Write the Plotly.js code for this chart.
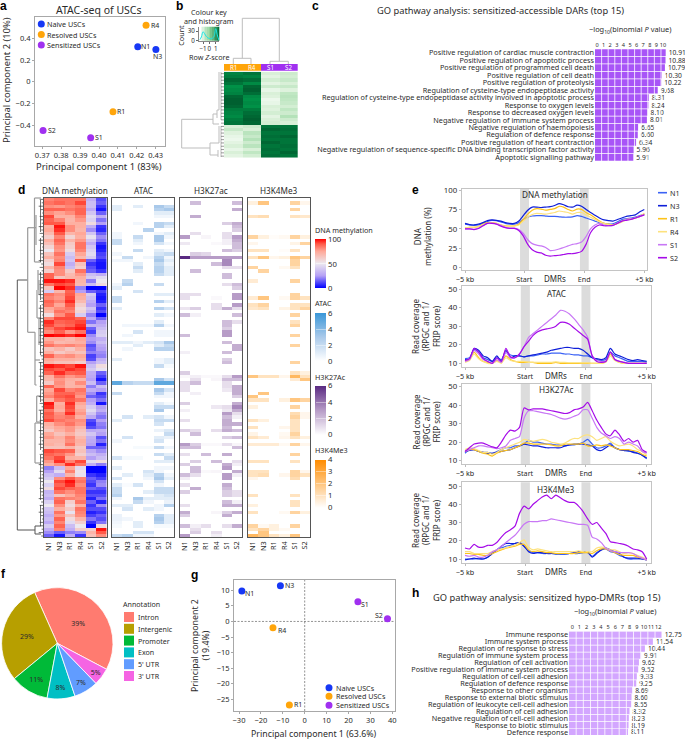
<!DOCTYPE html>
<html><head><meta charset="utf-8">
<script src="https://cdn.plot.ly/plotly-3.0.1.min.js"></script>
<style>html,body{margin:0;padding:0;background:#fff}#g{width:685px;height:740px}</style></head>
<body><div id="g"></div>
<script>
const FONT='"Noto Sans", Roboto, sans-serif', INK='#2b2b2b';
// ---------- panel a
const atacPc1N=[0.4205,0.4301], atacPc2N=[0.322,0.297];
const atacPc1R=[0.4074,0.4249], atacPc2R=[-0.276,0.521];
const atacPc1S=[0.3956,0.3704], atacPc2S=[-0.515,-0.448];
// ---------- panel b
const bSamples=['R1','R4','S1','S2'];
const bZ=[[0.75,0.85,-0.6,-0.5],[0.8,0.75,-0.7,-0.55],[0.95,0.9,-0.55,-0.45],[0.85,0.7,-0.7,-0.6],[0.65,0.95,-0.5,-0.45],[0.7,1,-0.75,-0.65],[0.75,0.9,-0.6,-0.4],[0.95,0.7,-0.65,-0.35],[1,0.65,-0.8,-0.4],[1,0.7,-0.75,-0.45],[0.95,0.65,-0.6,-0.55],[0.8,0.8,-0.65,-0.4],[0.75,0.9,-0.55,-0.5],[0.7,0.95,-0.7,-0.3],[0.8,1,-0.6,-0.5],[0.85,0.95,-0.55,-0.6],
[-0.6,-0.5,0.85,0.85],[-0.45,-0.6,0.95,0.9],[-0.65,-0.35,0.85,0.85],[-0.75,-0.45,0.9,0.95],[-0.8,-0.3,0.85,0.85],[-0.7,-0.5,0.95,0.85],[-0.6,-0.35,0.85,0.9],[-0.75,-0.6,0.9,0.85],[-0.6,-0.4,0.85,0.95],[-0.7,-0.55,0.9,0.85]];
const keyX=[-1.5,-1.25,-1,-0.75,-0.5,-0.25,0,0.25,0.5,0.75,1,1.25,1.5];
const keyCount=[3,12,28,22,14,9,7,6,8,14,38,18,2];
// ---------- panel c
const dars=['Positive regulation of cardiac muscle contraction','Positive regulation of apoptotic process','Positive regulation of programmed cell death','Positive regulation of cell death','Positive regulation of proteolysis','Regulation of cysteine-type endopeptidase activity','Regulation of cysteine-type endopeptidase activity involved in apoptotic process','Response to oxygen levels','Response to decreased oxygen levels','Negative regulation of immune system process','Negative regulation of haemopoiesis','Regulation of defence response','Positive regulation of heart contraction','Negative regulation of sequence-specific DNA binding transcription factor activity','Apoptotic signalling pathway'];
const darP=[10.91,10.88,10.79,10.30,10.22,9.68,8.31,8.24,8.10,8.01,6.65,6.60,6.34,5.96,5.91];
// ---------- panel d
const dSamples=['N1','N3','R1','R4','S1','S2'];
const methyl=[[82,85,85,85,30,12],[85,88,85,92,35,15],[80,78,82,85,35,8],[88,88,85,88,28,3],[80,76,80,88,38,15],[92,72,72,82,45,30],[88,82,70,78,42,18],[90,90,72,72,55,25],[72,98,80,72,30,8],[75,95,80,70,22,6],
[68,90,70,75,38,15],[60,82,58,72,48,22],[72,88,70,78,38,18],[66,85,62,85,30,8],[58,80,60,85,38,3],[50,78,55,82,42,5],[65,85,40,75,45,10],[72,80,35,68,40,12],[60,82,38,90,15,5],[55,92,30,65,8,3],
[70,82,35,60,12,3],[60,80,62,85,15,8],[88,80,68,78,35,30],[88,65,70,72,40,45],[98,98,95,70,20,50],[85,92,90,68,35,55],[65,100,95,20,0,0],[40,70,88,25,15,10],[85,80,90,75,40,5],[82,78,92,72,35,3],
[88,82,95,68,30,5],[85,75,90,60,25,15],[75,80,85,55,38,8],[70,85,82,58,32,12],[55,80,90,40,20,0],[82,92,92,88,28,15],[95,88,90,92,18,25],[92,85,88,95,32,30],[85,92,95,98,15,35],[80,88,78,85,10,40],
[100,98,95,100,22,42],[72,72,68,75,25,30],[78,68,70,72,22,35],[85,80,82,78,12,28],[65,70,62,72,15,25],[72,62,68,65,20,22],[88,78,80,75,10,20],[75,72,72,70,12,30],[70,65,65,60,25,35],[98,95,92,98,35,55],
[92,90,95,92,40,48],[88,95,88,90,30,15],[72,85,78,82,28,10],[70,78,72,70,25,3],[62,80,70,80,35,15],[88,78,70,72,20,35],[75,92,82,85,30,25],[78,88,88,82,22,8],[82,90,92,78,15,12],[72,85,90,85,25,18],
[98,72,95,75,30,3],[95,75,92,70,40,25],[85,72,90,75,45,30],[90,80,95,78,38,22],[88,82,85,72,28,18],[92,85,82,80,12,25],[72,80,85,78,8,20],[68,75,78,70,12,18],[62,72,78,65,28,30],[75,65,72,62,38,25],
[78,72,82,68,30,12],[70,70,80,72,28,18],[72,68,85,70,25,5],[65,65,70,62,15,15],[92,90,88,65,28,22],[88,85,78,60,35,30],[85,92,72,70,25,35],[78,95,82,92,45,55],[72,80,95,85,30,20],[20,35,75,45,0,0],
[25,45,82,52,0,0],[35,30,70,48,8,5],[40,80,90,82,15,10],[50,92,98,85,12,20],[42,88,95,80,8,22],[55,92,88,85,15,12],[32,85,80,85,8,8],[35,65,75,82,12,12],[30,85,82,80,5,18],[42,88,60,85,15,5],
[50,80,55,72,8,22],[38,72,62,85,12,12],[35,85,48,82,5,8],[30,78,65,80,10,15],[35,88,55,70,18,12],[28,82,45,60,8,18],[40,88,35,50,0,55],[30,82,30,60,60,98],[22,15,20,22,70,90],[15,3,30,8,65,80]];
// sparse tracks: [row, N1, N3, R1, R4, S1, S2]
const atacRows=[[2,1,0,1,0,3,2],[3,1,0,0,0,2.5,3],[4,0,0,0,0,1,1],[5,0,0,0,0,.5,.5],[7,0,0,.5,0,2.5,2],[8,0,0,0,0,2.5,1],[9,0,0,0,2.5,0,0],[10,.5,0,0,0,.5,1],[11,.5,0,2,0,3,.5],[12,2,0,1,0,3,0],[13,2,0,.5,0,1.5,.5],[15,0,0,2,0,1,.5],[16,.5,0,0,0,1.5,2],[17,0,2,0,.5,2.5,.5],[18,.5,.5,0,0,3,1],[19,0,0,1,0,2,.5],[20,0,0,2,0,2.5,1],[21,0,0,1,0,2.5,1],[22,0,0,0,0,2,1],[24,0,2,0,0,0,0],[25,.5,2.5,0,0,2,0],[26,1,0,0,0,0,0],[27,0,0,1.5,0,0,0],[28,0,0,0,0,1,1],[29,2,0,0,0,0,0],[30,2,0,0,0,2.5,1],[32,1,0,0,0,2.5,1.5],[34,0,0,0,0,1,.5],[36,0,0,0,0,1,0],[37,0,.5,.5,.5,2.5,.5],[39,0,0,1.5,0,.5,.5],[40,0,.5,0,0,.5,.5],[42,1,1,.5,1,1.5,3],[43,0,0,1,0,1,2],[44,0,.5,0,0,2.5,2.5],[47,1,0,0,0,.5,1],[48,0,0,0,0,.5,1],
[49,0,0,0,0,2,.3],[53,0,0,0,0,3,1.5],[54,5,2.5,2,2,5,5],[56,0,0,0,0,3,1.5],[57,2,0,0,0,2,.5],[58,0,0,0,0,.5,.5],[60,0,0,0,0,1,.3],[61,0,0,0,0,2,2],[62,0,0,0,0,3,0],[64,0,1.5,0,1,1.5,.5],[65,1,0,0,0,2,2],[66,0,0,0,0,1.5,0],[68,0,0,0,0,.7,1.3],[69,0,0,0,0,0,2],[70,0,1.5,0,0,1,.7],[71,.5,0,0,0,1.5,0],[73,0,0,.3,.3,2,.5],[75,0,0,0,0,2,1],[76,1.5,.3,.3,0,0,2],[77,0,0,0,0,1,1],[79,1,0,0,0,.5,.5],[80,0,0,0,1.5,.5,0],[81,0,1,0,1,2.5,.5],[82,1.5,0,0,.5,3,1],[83,0,0,0,0,1.5,0],[84,1,.2,1.5,0,.5,0],[85,2,0,0,0,2,2],[86,2,0,0,1,2,2],[87,2.5,0,0,0,1,1.5],[88,.5,0,3,1,1,1],[89,0,0,2,.5,0,.7],[90,1,1,0,0,.5,2.5],[91,0,1.5,0,1,.5,0],[93,.7,0,0,0,2.5,1],[94,.7,.5,0,0,3,1],[95,.5,0,1,0,2.5,1],[96,.3,0,1,0,.3,.3],[98,0,0,1.5,1.5,0,0],[99,2,2.5,.5,.5,0,0]];
const k27Rows=[[1,0,2,0,0,0,2],[3,0,0,0,0,0,2.5],[5,0,2.5,0,0,0,0],[7,0,0,0,0,1.5,2.5],[8,0,0,0,0,0,2],[9,0,0,0,0,0,1.5],[10,0,1,0,0,1,0],[11,3,0,.3,0,1,3],[12,0,0,0,0,.5,2.5],[13,.7,0,0,.2,.5,2],[14,0,0,0,0,0,2],[15,0,0,0,0,2,1.5],[16,0,1.5,1.2,0,0,0],[17,6,3,3,3,3,3],[18,0,0,0,0,3.5,0],[19,0,0,0,2,3.5,0],[20,0,0,0,0,1,1],[21,0,2,0,0,0,0],[22,0,0,0,0,2,0],[23,0,0,0,0,2,0],[25,0,0,0,0,1,2],[26,0,0,0,0,0,1.5],[28,1,1,0,0,0,3],[29,1,0,0,.2,0,3],[31,0,0,0,1,0,3],[32,.8,1.5,0,1,2.5,1],[34,2,.5,0,0,0,2],[36,0,0,0,0,2,1],[37,0,0,0,0,2,0],[38,0,0,0,0,1.5,0],[39,0,0,0,0,3,0],[40,2,0,0,0,3,0],[42,0,0,0,0,2,0],[43,0,0,0,0,0,2.5],[44,0,0,0,0,0,2.5],[45,.5,0,0,0,2,0],[47,0,0,0,0,1.5,0],[48,0,0,0,0,2,0],
[51,1.5,0,0,0,0,0],[52,.2,.5,.2,.2,1,3],[53,0,1,0,.3,2,2],[54,1,2,0,0,1,0],[55,1,0,0,0,1,2.5],[56,1,0,0,0,.7,2.5],[57,0,.5,0,0,0,2.5],[58,0,0,0,0,0,1.5],[60,1.5,0,0,0,0,2.5],[61,0,0,0,.7,1,3.5],[62,.5,0,0,0,.7,2.5],[63,0,0,0,0,3,1],[64,0,0,0,0,2,.5],[65,1,0,0,0,2.5,0],[66,0,0,0,0,2.5,2.5],[67,0,0,0,0,2,0],[68,1.5,1,0,1,2.5,2],[69,0,2,0,0,0,0],[70,0,0,0,0,1.5,2],[72,3,1.5,.2,.2,1,.3],[73,2,2,0,0,0,2],[75,1,0,2,0,2.5,0],[77,0,1.5,0,2,0,1],[78,1.5,0,0,0,2.5,.5],[79,0,2,0,0,3,0],[80,0,2,.2,.3,0,2.5],[81,2,1,0,0,3,.5],[82,.5,0,0,0,3,0],[84,1,0,0,0,2.5,0],[85,0,2.5,0,0,2,0],[86,1.5,0,0,0,1.5,1],[87,0,0,0,0,1.5,1],[89,0,0,0,0,2,.5],[90,1,0,0,0,2.5,2.5],[92,2.5,0,0,.3,1.5,2.5],[93,1.5,0,0,0,2.5,0],[96,2,.5,1,0,1,2.5],[97,0,1,0,0,0,0],[98,0,1.5,0,1,0,0],[99,3,0,0,.5,0,0]];
const k4Rows=[[1,.5,2,0,0,1.5,.3],[3,0,0,0,0,1.5,0],[5,1,1.2,0,0,1,.8],[11,1.5,.5,.1,.2,1.5,.5],[13,.3,0,0,0,.4,1.5],[15,1,1,0,.1,1,0],[17,1,2,.3,.5,2,1.5],[18,0,0,0,0,1.5,0],[19,0,0,0,0,1.5,0],[20,1.5,0,0,.2,1,0],[21,0,1.5,0,0,0,0],[24,.7,0,0,0,1.5,0],[28,0,0,0,0,1.5,0],[29,.7,2,0,.2,1.5,1],[31,1,1.5,0,0,1,1],[32,.8,1,0,.4,1,1.5],[34,0,0,0,0,1.5,0],[36,0,0,0,0,1,0],[37,0,0,0,0,1.5,0],[40,0,0,0,0,1.5,0],[43,0,0,0,0,1.5,0],[48,0,0,0,0,1.5,0],
[51,0,0,0,0,1,.5],[52,2,1,1,.3,2.5,1],[53,0,0,0,0,.7,2],[57,0,2,0,0,0,0],[58,2,0,0,0,0,0],[59,1,1,0,.5,2,1.5],[61,.5,0,0,0,1.5,0],[63,0,0,0,0,1.2,.3],[64,0,0,0,0,1.5,.3],[65,1,.5,0,0,1,0],[66,0,0,0,0,1,0],[67,1,0,0,.3,1,0],[68,0,0,0,0,1,0],[69,.4,0,0,.2,1.5,0],[70,1,.7,0,.3,1,.5],[72,.7,.7,.7,.2,1.5,.3],[75,0,0,0,0,1.5,0],[77,1,1,0,0,1,0],[80,1,1,0,0,1.5,.3],[81,1,1.2,0,.3,1.5,1],[82,.3,0,0,0,1.2,0],[87,1,0,0,0,1,0],[89,0,0,0,0,1,0],[90,.5,0,0,0,1,0],[92,1,0,0,.2,1.5,.5],[96,1.5,.2,.5,0,1.5,0],[97,1,1.5,.5,.2,0,0],[98,0,2,0,0,0,0],[99,2.5,2,1,.5,2,0]];
// ---------- panel e
const kb=[-5,-4.75,-4.5,-4.25,-4,-3.75,-3.5,-3.25,-3,-2.75,-2.5,-2.25,-2,-1.75,-1.5,-1.25,-1,-.75,-.5,-.25,0,.25,.5,.75,1,1.25,1.5,1.75,2,2.25,2.5,2.75,3,3.25,3.5,3.75,4,4.25,4.5,4.75,5];
const meN1=[56,55,54.5,55,57,59.5,61,60.5,59,57,56,56,58,62,65,66.5,67,67,66.5,66,66,65.5,65,65,65.5,67,66,64,62,60,58,57,56,56.5,59,62,63,64,65,67,69];
const meN3=[57,55.5,55,56,58,60.5,61.5,61,60,58,57,57,60,67,74,78,78,77.5,78,78.5,80,82.5,81,78.5,78,80.5,79,75,71,67.5,64,61.5,60.5,60,62,64,66,67,68,72,75];
const meR1=[51,52,52,53,56,58,58,57,55,54,53.5,54,56,62,69,74,76,75.5,74,75,76,79,78,75,73,75.5,75,71,68,64,60,57,56,55,57,60,62,63,64,66,69];
const meR4=[51,52,52,53,55.5,57,57.5,57,55,53.5,53,53.5,55,60,65,68.5,70,69.5,69,70,71,73,72,71,69,71,71,68,65,62,59,57,55.5,55,56.5,59,61.5,62.5,64,66,70];
const meS1=[50,50,49.5,51,54,57,57.5,56.5,54.5,52,51,51,49,44,36,31,29,28,26,22,22.5,24,26,28,30,31,33,40,50,55,57,55,54,54.5,57,60,62,63,64,66,68];
const meS2=[50,50,49,50.5,54,57,57,56,53.5,51.5,50.5,50.5,48,41,30,23,20,19,16,15,15.5,16,17,18,18,19,21,30,45,52,55,54,54,54.5,57,60,61,62,64,66,68];
const atN1=[12.5,13,17.5,16,13,12,11,13,12,16,14.5,14,14,13.5,14,14,14.5,15,15,15.5,15.5,15.5,15,15,14.5,14.5,14,14,13,12,11.5,12,16,14,13,12,11,11,11,11,10.5];
const atN3=[12,12,18,17,14,13,11,14,11,17,13,14,14,13.5,14,14.5,15,15.5,16,17,17.5,18,18.5,18.5,18,18,17,15,13,12.5,12,13,18,15,14,13,12,11.5,12,11.5,11];
const atR1=[11,12,16,13,11,10.5,10,11.5,10.5,14,12,11,10.5,10.5,10.5,10.5,10,10,10,10,10.5,10,10,10,10,10,10,10,10,10,10,11,15,12,10.5,10,10,10,10,10,10];
const atR4=[10.5,11.5,15,12.5,11,10,10,11,10,13,11.5,11,11,11,10.5,10.5,10.5,10.5,10.5,10.5,10.8,10.5,10.5,10.3,10.3,10.3,10.2,10.2,10,10,10,10.5,14,11.5,10.5,10,10,10,10,10,10];
const atS1=[11,12,17,15,12,11,10,12,10.5,16,13,13,15,19,24,26,28,30,32,34,36,38.5,38,36.5,34,31,28,24,14,11.5,11,11,16,12,11,10.5,10,10,10,10,10];
const atS2=[11.5,12.5,18,16,12.5,11,10,13,11,18,13.5,13,15,19,22,25,27,28,28.5,29,30,32,32,31,29,27,25,23,14,11,10.5,11,16,12,11,10.5,10,10,10,10,10];
const k27N1=[14,16,16,15,14.5,14.5,14,15,16,17,17,18,18,19,21,20,20,19.5,19,19,18.5,18.5,18,18.5,18.5,19,20,21.5,19,17,17,18,19.5,17,16,15.5,15,15,14,13,11];
const k27N3=[15,15.5,16,15,14.5,14,14,14.5,15,15.5,16,17,18,19,18.5,18,18,17.5,17,17,17,17,18,18.5,19,19,19,18.5,18,16,15.5,17,18.5,17,16,15.5,15.5,14.5,14,13,11.5];
const k27R1=[15,16,16,15,14,13.5,12.5,14,15,15.5,16,17,18,19.5,19.5,19,19,19,19,18.5,18,18,19,19,19,19,19.5,18,18,18.5,18,18.5,18,17,16,16,16,15.5,15,13.5,12.5];
const k27R4=[16,17,16.5,15.5,14.5,14.5,13.5,14.5,16,17,18,19,20,21.5,21,20.5,21,21.5,21,20,19.5,19,19.5,21,22,22,23.5,24,23,21,22,23,20.5,19,18,18.5,19,18,16,15,13];
const k27S1=[15,16,17,18,18,17.5,17,16.5,17,18,21,22,23,33,37,37,36.5,36,35.5,35,34,33,32.5,33,34,35,37.5,37.5,33,28,25,23.5,22,23,22,19,20,19,18,15,14];
const k27S2=[15,17,19,19.5,19.5,18.5,17.5,17,20,24,26.5,26,28,38.5,37.5,38,38,38,37.5,37,36.5,36,35.5,36,37.5,38,39,41.5,37,32,28,24.5,23.5,26.5,24,20.5,22,20,21,16,14.5];
const k4N1=[10,10,10,10.5,10,11,13,15,16,17,17.5,18.5,19,17,14.5,13.5,13.5,13,13,13,12.5,12.5,12.5,13,13,13,13.5,13.5,11.5,13.5,15,15.5,14,13.5,12,11,10,10,10,10,9.5];
const k4N3=[9.5,10,10.5,10,10,11,13,15,17,18.5,18.5,18.5,19,17,14,13,13.5,13.5,13,13,13,13,13,13,13.5,14,14,14,11,13,15,16,15,14,13,11,10.5,10.5,10.5,10,9.5];
const k4R1=[13,13,12.5,12.5,12,12,13,14,15,16,16.5,17,18,18,15,14,14.5,14,13.5,13.5,13,13,13,13,13,13.5,13.5,13.5,13,14.5,15.5,15.5,14.5,13.5,12.5,12,12,12,11,10.5,9.5];
const k4R4=[14,14,13,13,13,13,14,15,15.5,16,17,17.5,19,20.5,16.5,15,15.5,15,14.5,14,14,14,14,14,14,14.5,14,14,14,16,16.5,16,15,15,14,13,13.5,13,12,11,10];
const k4S1=[12,11.5,12,11,11,12,14,15,17,19,21,23,26,29,30.5,30.5,30.5,31,31,32,31.5,31,30.5,30,29.5,29,29,28.5,22,21,19,16,14.5,14,13.5,13.5,13.5,13,11.5,10.5,9.5];
const k4S2=[16,15.5,18,16.5,16.5,17.5,17.5,19,22,24.5,26,28,35,39,37.5,40,42,44,45,43,45,43.5,42,41,41,39,36,32,29,30,27,24,19.5,19,18.5,18,17,15.5,15,14,10];
const lineNames=['N1','N3','R1','R4','S1','S2'];
const lineColors=['#3b62f5','#0f1fd8','#fdc31a','#fde27e','#c878f5','#a50be8'];
// ---------- panel f
const annot=['Intron','Intergenic','Promoter','Exon',"5' UTR","3' UTR"];
const annotPct=[39,29,11,8,7,5];
const annotColors=['#FF7B70','#B79F00','#00BA38','#00BFC4','#619CFF','#F564E3'];
// ---------- panel g
const gPc1N=[-28.7,-11.1], gPc2N=[9.75,11.45];
const gPc1R=[-7,-14.5], gPc2R=[-26.8,-2.05];
const gPc1S=[24.3,37.8], gPc2S=[6.3,0.85];
// ---------- panel h
const dmrs=['Immune response','Immune system process','Regulation of response to stress','Regulation of immune system process','Regulation of cell activation','Positive regulation of immune system process','Regulation of cell-cell adhesion','Regulation of defence response','Response to other organism','Response to external biotic stimulus','Regulation of leukocyte cell-cell adhesion','Regulation of cell adhesion','Negative regulation of cell-cell adhesion','Response to biotic stimulus','Defence response'];
const dmrP=[12.75,11.54,10.44,9.91,9.62,9.52,9.33,9.25,8.69,8.60,8.55,8.32,8.23,8.19,8.11];
const BLUE='#1738f5',ORANGE='#ffa50a',PURPLE='#a030f0';

// ---------- helpers
const W=685,H=740;
const dx=(a,b)=>[a/W,b/W], dy=(a,b)=>[1-b/H,1-a/H];
const rangeOf=(p0,v0,p1,v1,a,b)=>{const s=(v1-v0)/(p1-p0);return [v0+(a-p0)*s,v0+(b-p0)*s];};
const traces=[],shapes=[],annotations=[];
const layout={width:W,height:H,autosize:false,margin:{l:0,r:0,t:0,b:0},paper_bgcolor:'#fff',plot_bgcolor:'rgba(0,0,0,0)',showlegend:false,font:{family:FONT,size:7,color:INK},shapes,annotations,bargap:0.1};
let axN=0;
function axes(xo,yo){axN++;const s=axN===1?'':axN;const base={showgrid:false,zeroline:false,fixedrange:true,tickangle:0};
 layout['xaxis'+s]=Object.assign({},base,{anchor:'y'+s},xo);layout['yaxis'+s]=Object.assign({},base,{anchor:'x'+s},yo);
 return {x:'x'+s,y:'y'+s};}
function txt(x,y,text,size,o){annotations.push(Object.assign({x:x/W,y:1-y/H,xref:'paper',yref:'paper',text,showarrow:false,xanchor:'center',yanchor:'middle',font:{size:size||7,color:INK},borderpad:0,borderwidth:0},o||{}));}
function dot(x,y,c){shapes.push({type:'circle',xref:'paper',yref:'paper',x0:(x-3.5)/W,x1:(x+3.5)/W,y0:1-(y+3.5)/H,y1:1-(y-3.5)/H,fillcolor:c,line:{width:0}});}
function frame(){return {showline:true,mirror:true,linecolor:'#a8a8a8',linewidth:1};}
function ptLabels(A,xs,ys,names,shifts){names.forEach((n,i)=>annotations.push({x:xs[i],y:ys[i],xref:A.x,yref:A.y,text:n,showarrow:false,xanchor:'center',yanchor:'middle',xshift:shifts[i][0],yshift:shifts[i][1],font:{size:7,color:INK}}));}

// ---------- overlay used for the dendrograms
const ov=axes({domain:[0,1],range:[0,W],visible:false},{domain:[0,1],range:[H,0],visible:false});
function dend(xs,ys,color,w){traces.push({type:'scatter',mode:'lines',x:xs,y:ys,xaxis:ov.x,yaxis:ov.y,line:{color,width:w||1},hoverinfo:'skip'});}
function segs(list,color,w){const xs=[],ys=[];list.forEach(s=>{xs.push(s[0],s[2],null);ys.push(s[1],s[3],null);});dend(xs,ys,color,w);}
// b dendrograms
segs([[242.3,18.3,279.3,18.3],[242.3,18.3,242.3,58.3],[279.3,18.3,279.3,61.3],[233.3,58.3,251,58.3],[233.3,58.3,233.3,64],[251,58.3,251,64],[270,61.3,288.3,61.3],[270,61.3,270,64],[288.3,61.3,288.3,64],
 [181.7,119.3,181.7,148],[181.7,119.3,213,119.3],[181.7,148,210,148],[213,114,213,124],[213,114,217,114],[213,124,219,124],[217,110,217,118],[219,72,219,110],[217,110,219,110],[210,143,210,155],[210,143,219,143],[210,155,218,155],[219,126,219,143],[218,150,218,157],[221,72,221,120],[221,126,221,157]],'#bdbdbd',1);
const bCombX=[],bCombY=[];for(let i=0;i<26;i++){const y=72+3.3*(i+.5);bCombX.push(221,224,null);bCombY.push(y,y,null);}
dend(bCombX,bCombY,'#555',.6);
// d dendrogram
segs([[17.3,280,17.3,530],[17.3,280,27.7,280],[17.3,530,35,530],[35,526,35,534],[35,526,41,526],[35,534,41,534]],'#555',1);
segs([[27.7,227.7,27.7,332.3],[27.7,227.7,36,227.7],[27.7,332.3,35,332.3],[34.5,198,34.5,262],[34.5,198,41,198],[34.5,262,41,262],[36,215,36,245],[35,332.3,35,385],[35,360,40,360],[35,385,36.7,385],[36.7,396,36.7,422],[36.7,396,41,396],[36.7,422,41,422],[35,423,35,463],[35,423,41,423],[35,463,41,463],[39,280,39,295],[37,290,37,318],[37,318,41,318],[39,318,39,345],[38,270,38,290]],'#9a9a9a',1.2);
const dCombX=[],dCombY=[];const combLen=[4,2,5,3,1.5,4,3,2,5,2.5];
for(let r=0;r<100;r++){const y=197.7+3.4*(r+.5),l=combLen[r%10];dCombX.push(43.7-l,43.7,null);dCombY.push(y,y,null);}
[[200,232],[238,262],[272,300],[305,355],[362,402],[410,450],[455,500],[505,526]].forEach(s=>{dCombX.push(40.5,40.5,null);dCombY.push(s[0],s[1],null);});
dend(dCombX,dCombY,'#333',.7);

// ---------- a
const aA=axes(Object.assign(frame(),{domain:dx(35,165),range:rangeOf(42.3,.37,155.7,.43,35,165),tickvals:[.37,.38,.39,.4,.41,.42,.43],ticktext:['0.37','0.38','0.39','0.40','0.41','0.42','0.43'],ticks:'outside',ticklen:2,tickcolor:'#a8a8a8',tickfont:{size:7.5}}),
 Object.assign(frame(),{domain:dy(17,146),range:rangeOf(125.3,-.4,38.3,.4,146,17),tickvals:[-.4,-.2,0,.2,.4],ticktext:['−0.4','−0.2','0','0.2','0.4'],ticks:'outside',ticklen:2,tickcolor:'#a8a8a8',tickfont:{size:7.5}}));
[[atacPc1N,atacPc2N,BLUE,['N1','N3'],[[8,0],[1.3,-7.3]]],[atacPc1R,atacPc2R,ORANGE,['R1','R4'],[[8,0],[9,0]]],[atacPc1S,atacPc2S,PURPLE,['S1','S2'],[[8,0],[8.7,0]]]].forEach(g=>{traces.push({type:'scatter',mode:'markers',x:g[0],y:g[1],marker:{size:7,color:g[2]},cliponaxis:false,xaxis:aA.x,yaxis:aA.y});ptLabels(aA,g[0],g[1],g[3],g[4]);});
txt(99,10,'ATAC-seq of USCs',10.5);
txt(99,166,'Principal component 1 (83%)',9.4);
txt(6,80,'Principal component 2 (10%)',9.4,{textangle:-90});
[['Naive USCs',24,BLUE],['Resolved USCs',34.5,ORANGE],['Sensitized USCs',45,PURPLE]].forEach(l=>{dot(41.3,l[1],l[2]);txt(47,l[1],l[0],7.2,{xanchor:'left'});});
// ---------- b
const bHead=axes({domain:dx(224,297.7),range:[-.5,3.5],visible:false},{domain:dy(64,70.7),range:[-.5,.5],visible:false});
traces.push({type:'heatmap',x:[0,1,2,3],z:[[0,0,1,1]],xaxis:bHead.x,yaxis:bHead.y,zmin:0,zmax:1,colorscale:[[0,'#ffa50a'],[1,'#a030f0']],showscale:false,hoverinfo:'skip'});
bSamples.forEach((s,i)=>txt(233.2+18.4*i,67.4,s,6.2,{font:{size:6.2,color:'#fff'}}));
const bH=axes({domain:dx(224,297.7),range:[-.5,3.5],visible:false},{domain:dy(71.7,157.7),range:[25.5,-.5],visible:false});
traces.push({type:'heatmap',z:bZ,x:[0,1,2,3],xaxis:bH.x,yaxis:bH.y,zmin:-1,zmax:1,colorscale:[[0,'#ffffff'],[.2,'#d9f0d8'],[.5,'#8fd49a'],[.75,'#00a651'],[1,'#006030']],showscale:false,hoverinfo:'skip'});
const bK=axes({domain:dx(199,219.3),range:rangeOf(203,-1,215.7,1,199,219.3),tickvals:[-1,0,1],ticktext:['−1','0','1'],ticks:'outside',ticklen:2,tickcolor:'#666',tickfont:{size:6.2},showline:true,linecolor:'#888'},
 {domain:dy(26.7,40.7),range:[0,44],tickvals:[0,30],ticks:'outside',ticklen:2,tickcolor:'#666',tickfont:{size:6.2},showline:true,linecolor:'#888'});
traces.push({type:'heatmap',x:keyX,y:[0,44],z:[keyX,keyX],xaxis:bK.x,yaxis:bK.y,zmin:-1.5,zmax:1.5,colorscale:[[0,'#ffffff'],[.5,'#8fd49a'],[1,'#00703a']],showscale:false,hoverinfo:'skip'});
traces.push({type:'scatter',mode:'lines',x:keyX,y:keyCount,xaxis:bK.x,yaxis:bK.y,line:{color:'#19e6e6',width:1,shape:'spline'},hoverinfo:'skip'});
txt(209,11.7,'Colour key',7.2);txt(209,20.7,'and histogram',7.2);
txt(180.7,35,'Count',7.2,{textangle:-90});
txt(209,57.3,'Row <i>Z</i>-score',7.2);

// ---------- bar panels
function barPanel(cat,val,color,x0,scale,xMax,top,pitch,tickStart,tickStep,nTicks){
 const right=Math.min(x0+scale*xMax,W);
 const tv=[],tt=[];for(let i=0;i<nTicks;i++){tv.push(tickStart+tickStep*i);tt.push(String(i));}
 const A=axes({domain:dx(x0,right),range:[0,(right-x0)/scale],side:'top',tickvals:tv,ticktext:tt,ticks:'',tickfont:{size:5.6}},
  {domain:dy(top,top+pitch*15),range:[14.5,-.5],type:'linear',tickvals:cat.map((_,i)=>i),ticktext:cat,ticks:'',tickfont:{size:7.25}});
 traces.push({type:'bar',orientation:'h',y:cat.map((_,i)=>i),x:val,marker:{color,line:{width:0}},texttemplate:'%{x:.2f}',textposition:'outside',textfont:{size:6.7,color:INK},cliponaxis:false,constraintext:'none',xaxis:A.x,yaxis:A.y,hoverinfo:'skip'});
 for(let i=1;i<nTicks+1;i++){const v=tickStep*i;shapes.push({type:'line',xref:A.x,yref:A.y+' domain',x0:v,x1:v,y0:0,y1:1,line:{color:'#fff',width:.8},layer:'above'});}
}
barPanel(dars,darP,'#a855f7',595,6.48,13,49,7.47,.31,1.018,11);
barPanel(dmrs,dmrP,'#d3a6ff',569,7.27,15,631.2,6.95,.45,.986,13);
txt(500.5,11,'GO pathway analysis: sensitized-accessible DARs (top 15)',9.3);
txt(630,30,'−log<sub>10</sub>(binomial <i>P</i> value)',7.4);
txt(546.5,597.3,'GO pathway analysis: sensitized hypo-DMRs (top 15)',9.3);
txt(615,611.7,'−log<sub>10</sub>(binomial <i>P</i> value)',7.4);

// ---------- d heatmaps
function expand(rows){const m=[];for(let r=0;r<100;r++)m.push([0,0,0,0,0,0]);rows.forEach(a=>{m[a[0]]=a.slice(1);});return m;}
function heat(z,x0,x1,colorscale,zmax,title,cb){
 const A=axes({domain:dx(x0,x1),range:[-.5,5.5],type:'linear',tickvals:[0,1,2,3,4,5],ticktext:dSamples,tickangle:-90,ticks:'',tickfont:{size:7.4},showline:true,mirror:true,linecolor:'#555',linewidth:1},
  {domain:dy(197.7,537.3),range:[99.5,-.5],showticklabels:false,ticks:'',showline:true,mirror:true,linecolor:'#555',linewidth:1});
 traces.push({type:'heatmap',z,xaxis:A.x,yaxis:A.y,zmin:0,zmax,colorscale,hoverinfo:'skip',colorbar:{x:315/W,xanchor:'left',xref:'paper',yref:'paper',y:1-cb.b/H,yanchor:'bottom',len:cb.b-cb.t,lenmode:'pixels',thickness:10.7,thicknessmode:'pixels',tickvals:cb.ticks,ticks:'inside',ticklen:10,tickcolor:'rgba(255,255,255,.7)',tickwidth:.6,outlinewidth:0,borderwidth:0,xpad:0,ypad:0,tickfont:{size:7.7},ticklabelposition:'outside'}});
 txt((x0+x1)/2,190,title,8.2);
 txt(315,cb.t-9.5,cb.name,7.2,{xanchor:'left'});
}
heat(methyl,43.7,106.7,[[0,'#0000ff'],[.25,'#b5a0f5'],[.5,'#ece8ef'],[.75,'#ffa898'],[.9,'#ff5a48'],[1,'#ff0000']],100,'DNA methylation',{t:239.3,b:288.3,ticks:[0,50,100],name:'DNA methylation'});
heat(expand(atacRows),111.7,174.3,[[0,'#ffffff'],[.5,'#a9c9ea'],[1,'#3a97d8']],6,'ATAC',{t:312.7,b:361,ticks:[0,2,4,6],name:'ATAC'});
heat(expand(k27Rows),179.7,242.3,[[0,'#ffffff'],[.5,'#b79cc7'],[1,'#5a2a82']],6,'H3K27ac',{t:386,b:434.7,ticks:[0,2,4,6],name:'H3K27Ac'});
heat(expand(k4Rows),247.7,310.3,[[0,'#ffffff'],[.5,'#ffc680'],[1,'#ff8c00']],4,'H3K4Me3',{t:459.3,b:507.7,ticks:[0,1,2,3,4],name:'H3K4Me3'});

// ---------- e lines
function linePanel(series,x5,xp5,fl,fr,ft,fb,yRef,yticks,title,titleY){
 const A=axes({domain:dx(fl,fr),range:rangeOf(x5,-5,xp5,5,fl,fr),tickvals:[-5,-1.69,1.65,5],ticktext:['−5 kb','Start','End','+5 kb'],ticks:'outside',ticklen:2,tickcolor:'#bbb',tickfont:{size:7.2},showline:true,mirror:true,linecolor:'#c4c4c4',linewidth:1},
  {domain:dy(ft,fb),range:rangeOf(yRef[0],yRef[1],yRef[2],yRef[3],fb,ft),tickvals:yticks,ticks:'outside',ticklen:2,tickcolor:'#bbb',tickfont:{size:7.8},showline:true,mirror:true,linecolor:'#c4c4c4',linewidth:1});
 [[-1.93,-1.43],[1.41,1.9]].forEach(b=>shapes.push({type:'rect',xref:A.x,yref:A.y+' domain',x0:b[0],x1:b[1],y0:0,y1:1,fillcolor:'#dcdcdc',line:{width:0},layer:'below'}));
 series.forEach((s,i)=>traces.push({type:'scatter',mode:'lines',x:kb,y:s,name:lineNames[i],xaxis:A.x,yaxis:A.y,line:{color:lineColors[i],width:1.2,shape:'spline',smoothing:.6},hoverinfo:'skip'}));
 txt((x5+xp5)/2+.5,titleY,title,8.2);
 txt((x5+xp5)/2+.5,fb+8.2,'DMRs',8);
}
linePanel([meN1,meN3,meR1,meR4,meS1,meS2],465,644.3,461.7,647.3,189,270,[267.7,0,190,100],[0,25,50,75,100],'DNA methylation',194.5);
linePanel([atN1,atN3,atR1,atR4,atS1,atS2],465,646.7,461.7,650.5,286,367,[363.3,10,289,50],[10,20,30,40,50],'ATAC',293);
linePanel([k27N1,k27N3,k27R1,k27R4,k27S1,k27S2],465,646.7,461.7,650.5,384,464,[460.7,10,386.7,50],[10,20,30,40,50],'H3K27Ac',390);
linePanel([k4N1,k4N3,k4R1,k4R4,k4S1,k4S2],465,646.7,461.7,650.5,482.3,563.3,[559,10,486,50],[10,20,30,40,50],'H3K4Me3',489);
txt(423,237,'DNA<br>methylation (%)',8,{textangle:-90});
[326,421.5,520].forEach(y=>txt(426,y,'Read coverage<br>(RPGC and 1/<br>FRIP score)',8,{textangle:-90}));
lineNames.forEach((n,i)=>{const y=192.7+13*i;shapes.push({type:'line',xref:'paper',yref:'paper',x0:658/W,x1:667/W,y0:1-y/H,y1:1-y/H,line:{color:lineColors[i],width:1.6}});txt(670,y,n,7.2,{xanchor:'left'});});

// ---------- f
traces.push({type:'pie',labels:annot,values:annotPct,sort:false,direction:'counterclockwise',rotation:-24,domain:{x:dx(1.6,113),y:dy(587.6,699)},marker:{colors:annotColors,line:{color:'#fff',width:.8}},text:annotPct.map(v=>v+'%'),textinfo:'text',textposition:'inside',insidetextorientation:'horizontal',insidetextfont:{size:7,color:'#2b2b2b'},hoverinfo:'skip',showlegend:false});
txt(123.3,604,'Annotation',7.1,{xanchor:'left'});
annot.forEach((n,i)=>{const y=617+11.8*i;shapes.push({type:'rect',xref:'paper',yref:'paper',x0:124/W,x1:134/W,y0:1-(y+5)/H,y1:1-(y-5)/H,fillcolor:annotColors[i],line:{width:0}});txt(137.7,y,n,7.1,{xanchor:'left'});});

// ---------- g
const gA=axes(Object.assign(frame(),{domain:dx(234,395),range:rangeOf(239,-30,392.3,40,234,395),tickvals:[-30,-20,-10,0,10,20,30,40],ticktext:['−30','−20','−10','0','10','20','30','40'],ticks:'outside',ticklen:2,tickcolor:'#a8a8a8',tickfont:{size:7.5}}),
 Object.assign(frame(),{domain:dy(580,711),range:rangeOf(699.3,-25,590.3,10,711,580),tickvals:[-25,-20,-15,-10,-5,0,5,10],ticktext:['−25','−20','−15','−10','−5','0','5','10'],ticks:'outside',ticklen:2,tickcolor:'#a8a8a8',tickfont:{size:7.5}}));
shapes.push({type:'line',xref:gA.x,yref:gA.y+' domain',x0:0,x1:0,y0:0,y1:1,line:{color:'#666',width:.7,dash:'2px,1.5px'},layer:'below'});
shapes.push({type:'line',xref:gA.x+' domain',yref:gA.y,x0:0,x1:1,y0:0,y1:0,line:{color:'#666',width:.7,dash:'2px,1.5px'},layer:'below'});
[[gPc1N,gPc2N,BLUE,['N1','N3'],[[7.3,-2.3],[9.3,0]]],[gPc1R,gPc2R,ORANGE,['R1','R4'],[[8.3,0],[9,-2.3]]],[gPc1S,gPc2S,PURPLE,['S1','S2'],[[6.7,-2.6],[-8.7,3]]]].forEach(g=>{traces.push({type:'scatter',mode:'markers',x:g[0],y:g[1],marker:{size:7,color:g[2]},cliponaxis:false,xaxis:gA.x,yaxis:gA.y});ptLabels(gA,g[0],g[1],g[3],g[4]);});
txt(314,733.5,'Principal component 1 (63.6%)',8.8);
txt(200,645,'Principal component 2<br>(19.4%)',8.8,{textangle:-90});
[['Naive USCs',687.7,BLUE],['Resolved USCs',696.3,ORANGE],['Sensitized USCs',705.3,PURPLE]].forEach(l=>{dot(329,l[1],l[2]);txt(335.7,l[1],l[0],7.2,{xanchor:'left'});});

// panel letters
[['a',4,6],['b',179,6],['c',315,6],['d',21,190],['e',415,190],['f',3,574],['g',194,575],['h',415,593]].forEach(l=>txt(l[1],l[2],'<b>'+l[0]+'</b>',12,{font:{size:12,color:'#000',family:'"Liberation Sans",sans-serif'}}));

Plotly.newPlot('g',traces,layout,{displayModeBar:false,staticPlot:true});
</script></body></html>
